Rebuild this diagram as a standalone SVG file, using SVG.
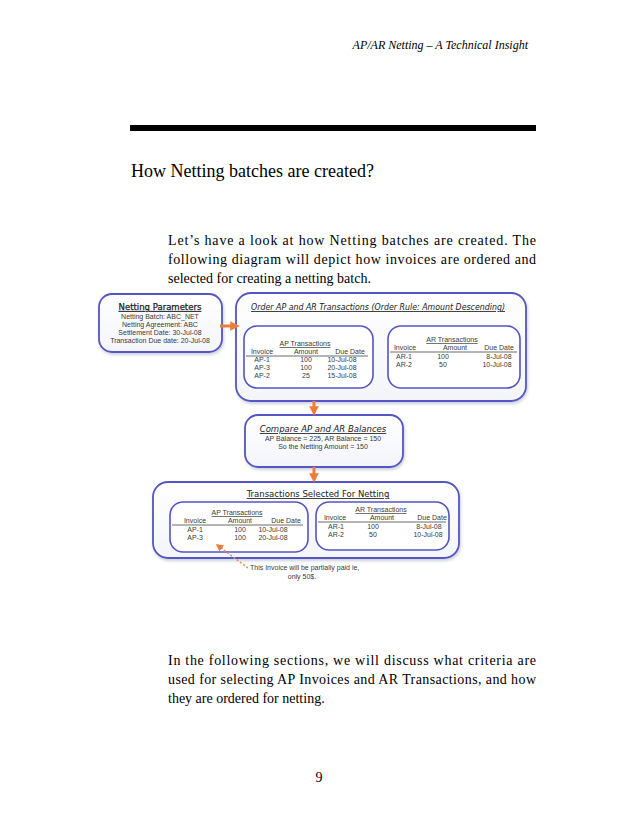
<svg xmlns="http://www.w3.org/2000/svg" width="638" height="826" viewBox="0 0 638 826">
<style>
.hdr{font-family:"Liberation Serif",serif;font-style:italic;font-size:12px;fill:#000}
.ttl{font-family:"Liberation Serif",serif;font-size:18px;fill:#000}
.par{font-family:"Liberation Serif",serif;font-size:14px;fill:#000}
.box{fill:url(#bg);stroke:#5454c4;stroke-width:1.8;filter:url(#sh)}
.ibox{fill:#fff;stroke:#5454c4;stroke-width:1.6}
.bt{font-family:"DejaVu Sans",sans-serif;font-size:8.5px;fill:#222;text-decoration:underline}
.it{font-style:italic}
.t{font-family:"Liberation Sans",Arial,sans-serif;font-size:7px;fill:#3a3a3a}
.c{text-anchor:middle}
.u{text-decoration:underline}
.rule{stroke:#444;stroke-width:0.8}
.arr{stroke:#ee7d3a;stroke-width:3;fill:none}
.dash{stroke:#ee8a5a;stroke-width:1.5;stroke-dasharray:2 2;fill:none}
</style>
<defs>
<linearGradient id="bg" x1="0" y1="0" x2="0" y2="1">
<stop offset="0" stop-color="#ffffff"/>
<stop offset="1" stop-color="#f4f5fa"/>
</linearGradient>
<filter id="sh" x="-10%" y="-10%" width="120%" height="130%">
<feDropShadow dx="1" dy="2" stdDeviation="1.5" flood-color="#9aa0b8" flood-opacity="0.5"/>
</filter>
<marker id="ah" viewBox="0 0 10 10" refX="6" refY="5" markerWidth="3.2" markerHeight="3.2" orient="auto">
<path d="M0,0 L10,5 L0,10 z" fill="#ee7d3a"/>
</marker>
<marker id="ah2" viewBox="0 0 10 10" refX="8" refY="5" markerWidth="5" markerHeight="5" orient="auto">
<path d="M0,0 L10,5 L0,10 z" fill="#ee7d3a"/>
</marker>
</defs>
<rect width="638" height="826" fill="#fff"/>
<text class="hdr" x="528" y="49" text-anchor="end">AP/AR Netting – A Technical Insight</text>
<rect x="130" y="125" width="406" height="6" fill="#000"/>
<text class="ttl" x="131" y="177">How Netting batches are created?</text>
<text class="par" x="168" y="245" textLength="368" lengthAdjust="spacing">Let’s have a look at how Netting batches are created. The</text>
<text class="par" x="168" y="264" textLength="368" lengthAdjust="spacing">following diagram will depict how invoices are ordered and</text>
<text class="par" x="168" y="283">selected for creating a netting batch.</text>

<g id="netting-parameters">
<rect class="box" x="99" y="294" width="123" height="58" rx="13"/>
<text class="bt c" x="160" y="310" font-size="8.5" stroke="#222" stroke-width="0.25">Netting Parameters</text>
<text class="t c" x="160" y="319" font-size="7.5">Netting Batch: ABC_NET</text>
<text class="t c" x="160" y="327" font-size="7.5">Netting Agreement: ABC</text>
<text class="t c" x="160" y="335" font-size="7.5">Settlement Date: 30-Jul-08</text>
<text class="t c" x="160" y="343" font-size="7.5">Transaction Due date: 20-Jul-08</text>
</g>

<g id="order-transactions">
<rect class="box" x="236" y="293" width="290" height="108" rx="15"/>
<text class="bt it" x="251" y="310" textLength="254" lengthAdjust="spacingAndGlyphs">Order AP and AR Transactions (Order Rule: Amount Descending)</text>
</g>

<g id="order-ap">
<rect class="ibox" x="244" y="326" width="129" height="62" rx="13"/>
<text class="t c u" x="305" y="346">AP Transactions</text>
<text class="t c" x="262" y="354">Invoice</text>
<text class="t c" x="306" y="354">Amount</text>
<text class="t c" x="350" y="354">Due Date</text>
<line class="rule" x1="246" y1="356" x2="368" y2="356"/>
<text class="t c" x="262" y="362">AP-1</text><text class="t c" x="306" y="362">100</text><text class="t c" x="342" y="362">10-Jul-08</text>
<text class="t c" x="262" y="370">AP-3</text><text class="t c" x="306" y="370">100</text><text class="t c" x="342" y="370">20-Jul-08</text>
<text class="t c" x="262" y="378">AP-2</text><text class="t c" x="306" y="378">25</text><text class="t c" x="342" y="378">15-Jul-08</text>
</g>

<g id="order-ar">
<rect class="ibox" x="388" y="326" width="132" height="62" rx="13"/>
<text class="t c u" x="452" y="342">AR Transactions</text>
<text class="t c" x="405" y="350">Invoice</text>
<text class="t c" x="455" y="350">Amount</text>
<text class="t c" x="499" y="350">Due Date</text>
<line class="rule" x1="390" y1="352" x2="517" y2="352"/>
<text class="t c" x="404" y="359">AR-1</text><text class="t c" x="443" y="359">100</text><text class="t c" x="499" y="359">8-Jul-08</text>
<text class="t c" x="404" y="367">AR-2</text><text class="t c" x="443" y="367">50</text><text class="t c" x="497" y="367">10-Jul-08</text>
</g>

<g id="compare-balances">
<rect class="box" x="245" y="415" width="158" height="52" rx="13"/>
<text class="bt it c" x="323" y="432" font-size="8">Compare AP and AR Balances</text>
<text class="t c" x="323" y="441" font-size="7.5">AP Balance = 225, AR Balance = 150</text>
<text class="t c" x="323" y="449" font-size="7.5">So the Netting Amount = 150</text>
</g>

<g id="selected-for-netting">
<rect class="box" x="153" y="482" width="306" height="76" rx="15"/>
<text class="bt c" x="318" y="497" font-size="8.5">Transactions Selected For Netting</text>
</g>

<g id="selected-ap">
<rect class="ibox" x="170" y="502" width="138" height="50" rx="13"/>
<text class="t c u" x="237" y="515">AP Transactions</text>
<text class="t c" x="195" y="523">Invoice</text>
<text class="t c" x="240" y="523">Amount</text>
<text class="t c" x="286" y="523">Due Date</text>
<line class="rule" x1="172" y1="525" x2="303" y2="525"/>
<text class="t c" x="195" y="532">AP-1</text><text class="t c" x="240" y="532">100</text><text class="t c" x="273" y="532">10-Jul-08</text>
<text class="t c" x="195" y="540">AP-3</text><text class="t c" x="240" y="540">100</text><text class="t c" x="273" y="540">20-Jul-08</text>
</g>

<g id="selected-ar">
<rect class="ibox" x="316" y="502" width="133" height="48" rx="13"/>
<text class="t c u" x="381" y="512">AR Transactions</text>
<text class="t c" x="335" y="520">Invoice</text>
<text class="t c" x="382" y="520">Amount</text>
<text class="t c" x="432" y="520">Due Date</text>
<line class="rule" x1="318" y1="522" x2="446" y2="522"/>
<text class="t c" x="336" y="529">AR-1</text><text class="t c" x="373" y="529">100</text><text class="t c" x="429" y="529">8-Jul-08</text>
<text class="t c" x="336" y="537">AR-2</text><text class="t c" x="373" y="537">50</text><text class="t c" x="428" y="537">10-Jul-08</text>
</g>

<g id="note">
<text class="t" x="250" y="570" font-family="DejaVu Sans" font-size="7.2">This Invoice will be partially paid ie,</text>
<text class="t c" x="302" y="579" font-family="DejaVu Sans" font-size="7.2">only 50$.</text>
</g>

<g id="connectors">
<line class="arr" x1="220" y1="326" x2="236" y2="326" marker-end="url(#ah)"/>
<line class="arr" x1="314" y1="401" x2="314" y2="412" marker-end="url(#ah)"/>
<line class="arr" x1="314" y1="467" x2="314" y2="479" marker-end="url(#ah)"/>
<line class="dash" x1="248" y1="568" x2="217" y2="545" marker-end="url(#ah2)"/>
</g>

<text class="par" x="168" y="665" textLength="368" lengthAdjust="spacing">In the following sections, we will discuss what criteria are</text>
<text class="par" x="168" y="684" textLength="368" lengthAdjust="spacing">used for selecting AP Invoices and AR Transactions, and how</text>
<text class="par" x="168" y="703">they are ordered for netting.</text>
<text class="par" x="319" y="782" text-anchor="middle" font-size="12">9</text>
</svg>
